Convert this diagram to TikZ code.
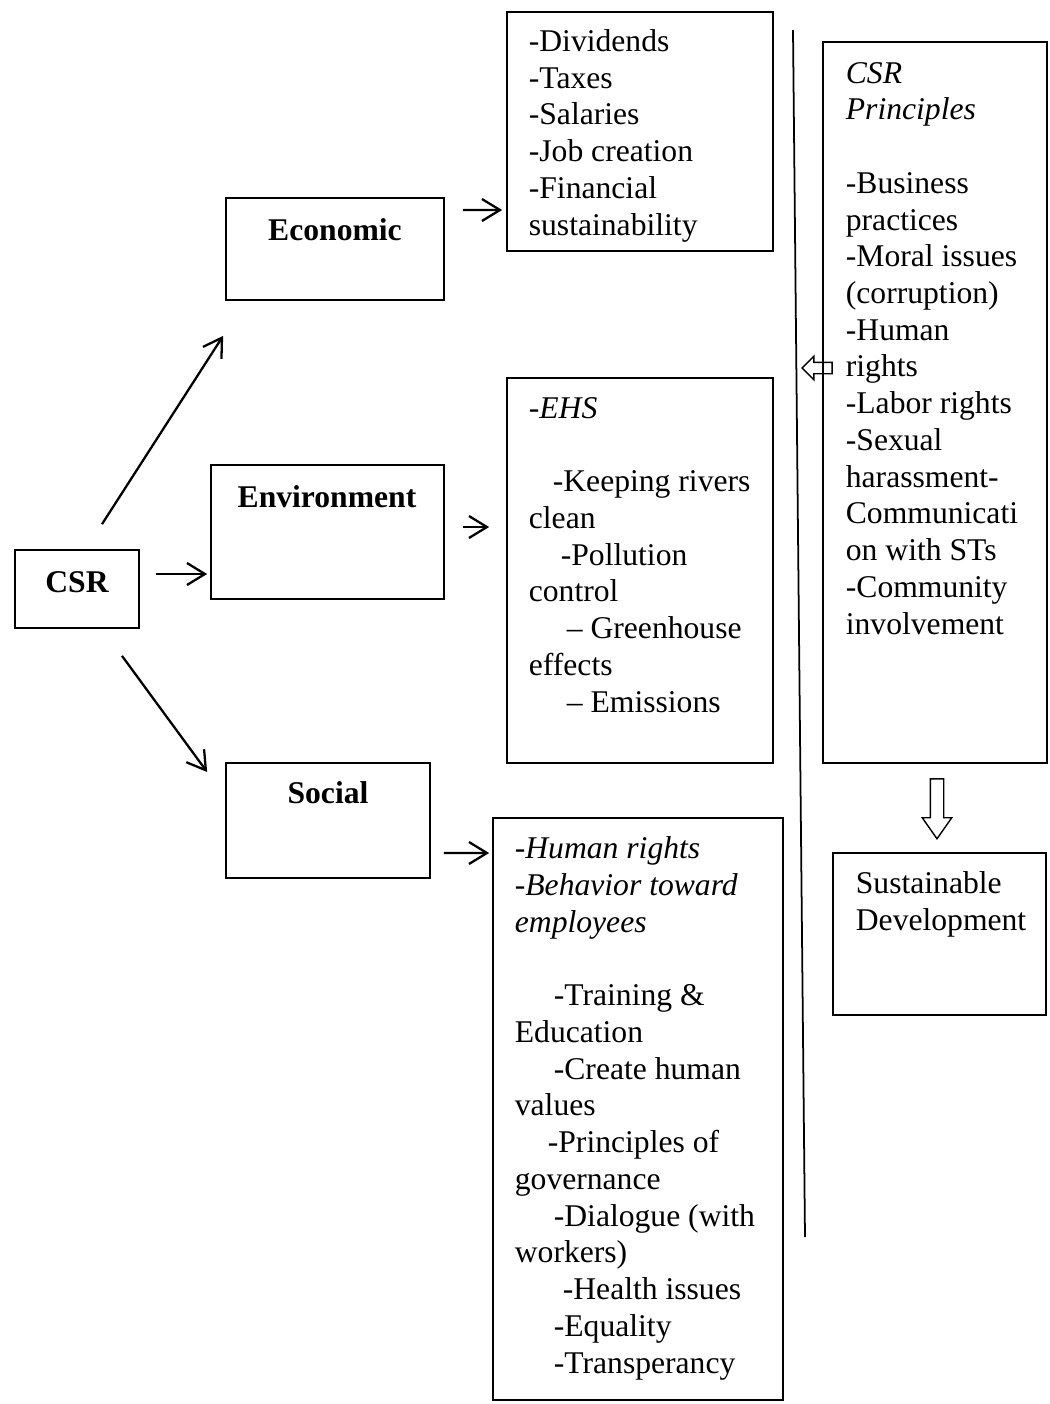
\documentclass[tikz,border=0pt]{standalone}
\usepackage{fontspec}
\setmainfont{Liberation Serif}
\usetikzlibrary{arrows.meta,shapes.arrows}
\tikzset{
  csrmap/.style={>={Straight Barb[length=3.6mm,width=4.4mm]},
    line width=1pt,
    x=0.02cm, y=-0.02cm,
    font=\fontsize{18}{20.9}\selectfont},
  frame/.style={rectangle,draw,line width=1pt,inner sep=0pt},
  heading/.style={font=\fontsize{18}{20.9}\selectfont\bfseries,inner sep=0pt,anchor=base},
  listing/.style={align=left,inner sep=0pt,anchor=base west},% base = last line
  link/.style={->,line width=1.3pt},
  hollow/.style={single arrow,draw,line width=0.8pt,inner sep=0pt}}

\begin{document}
\begin{tikzpicture}[csrmap]
  \useasboundingbox (0,0) rectangle (1049,1404);
  % boxes
  \node[frame,minimum width=2.48cm,minimum height=1.56cm] (csr) at (77,589) {};
  \node[frame,minimum width=4.36cm,minimum height=2.04cm] (econ) at (335,249) {};
  \node[frame,minimum width=4.66cm,minimum height=2.68cm] (env) at (327.5,532) {};
  \node[frame,minimum width=4.08cm,minimum height=2.30cm] (social) at (328,820.5) {};
  \node[frame,minimum width=5.32cm,minimum height=4.78cm] (econlist) at (640,131.5) {};
  \node[frame,minimum width=5.32cm,minimum height=7.70cm] (envlist) at (640,570.5) {};
  \node[frame,minimum width=5.80cm,minimum height=11.64cm] (sociallist) at (638,1109) {};
  \node[frame,minimum width=4.48cm,minimum height=14.42cm] (principles) at (935,402.5) {};
  \node[frame,minimum width=4.26cm,minimum height=3.24cm] (sustdev) at (939.5,934) {};
  % headings
  \node[heading] (csrtxt) at (77,592) {CSR};
  \node[heading] (econtxt) at (335,240) {Economic};
  \node[heading] (envtxt) at (327,507) {Environment};
  \node[heading] (socialtxt) at (328,803) {Social};
  % lists
  \node[listing] (econlisttxt) at (528,235) {-Dividends\\-Taxes\\-Salaries\\-Job creation\\-Financial\\sustainability};
  \node[listing] (envlisttxt) at (528,712) {\textit{-EHS}\\\mbox{}\\
    \hspace*{0.48cm}-Keeping rivers\\clean\\
    \hspace*{0.64cm}-Pollution\\control\\
    \hspace*{0.76cm}-- Greenhouse\\effects\\
    \hspace*{0.76cm}-- Emissions};
  \node[listing] (sociallisttxt) at (514,1373) {\textit{-Human rights}\\\textit{-Behavior toward}\\\textit{employees}\\\mbox{}\\
    \hspace*{0.78cm}-Training \&\\Education\\
    \hspace*{0.78cm}-Create human\\values\\
    \hspace*{0.66cm}-Principles of\\governance\\
    \hspace*{0.78cm}-Dialogue (with\\workers)\\
    \hspace*{0.96cm}-Health issues\\
    \hspace*{0.78cm}-Equality\\
    \hspace*{0.78cm}-Transperancy};
  \node[listing] (principlestxt) at (845,634) {\textit{CSR}\\\textit{Principles}\\\mbox{}\\
    -Business\\practices\\-Moral issues\\(corruption)\\-Human\\rights\\-Labor rights\\
    -Sexual\\harassment-\\Communicati\\on with STs\\-Community\\involvement};
  \node[listing] (sustdevtxt) at (855,930) {Sustainable\\Development};
  % connectors
  \draw[link] ([shift={(25,-25)}]csr.north) -- ([shift={(-2,35)}]econ.south west);
  \draw[link] ([shift={(16,-15)}]csr.east) -- ([shift={(-3,42)}]env.west);
  \draw[link] ([shift={(45,27)}]csr.south) -- ([shift={(-18,-48.5)}]social.west);
  \draw[link] ([shift={(18,-39)}]econ.east) -- ([shift={(-4,78.5)}]econlist.west);
  \draw[link] ([shift={(18,-5)}]env.east) -- ([shift={(-17,-43.5)}]envlist.west);
  \draw[link] ([shift={(13,32.5)}]social.east) -- ([shift={(-3,-256)}]sociallist.west);
  \coordinate (divtop) at (793,30);
  \coordinate (divbot) at (805,1237);
  \draw (divtop) -- (divbot);
  \node[hollow,shape border rotate=180,minimum height=0.6cm,inner ysep=0.1cm,
    single arrow head extend=0.12cm] (toline) at (820,368) {};
  \node[hollow,shape border rotate=270,minimum height=1.2cm,inner xsep=0.12cm,
    single arrow head extend=0.16cm,single arrow tip angle=70] (tosust) at (937,804) {};
\end{tikzpicture}
\end{document}
